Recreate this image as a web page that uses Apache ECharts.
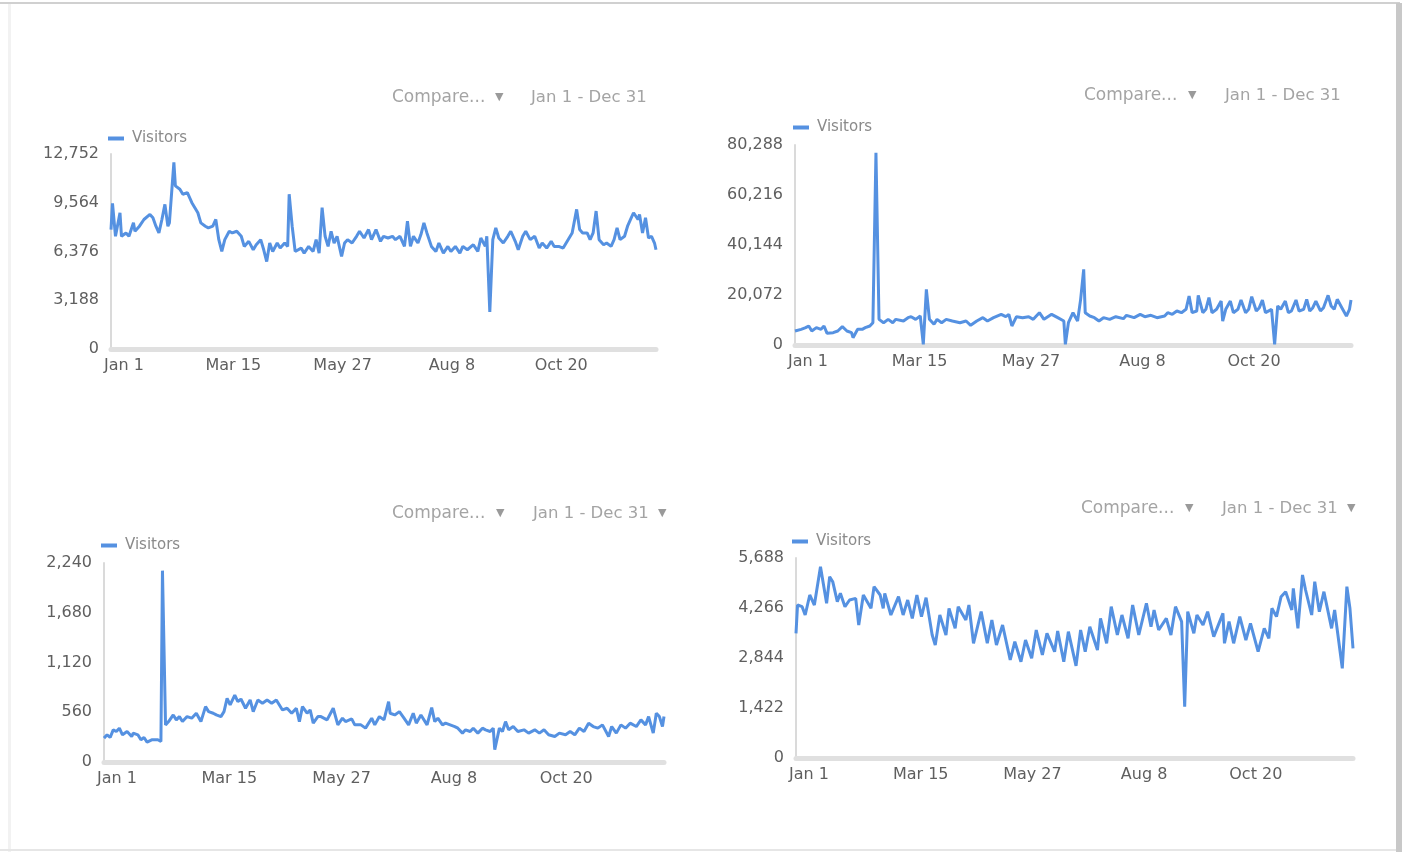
<!DOCTYPE html>
<html>
<head>
<meta charset="utf-8">
<script src="https://cdn.jsdelivr.net/npm/echarts@6/dist/echarts.min.js"></script>
<style>
html,body{margin:0;padding:0;background:#fff;}
#c{width:1405px;height:852px;}
</style>
</head>
<body>
<div id="c"></div>
<script>
// ---- data ----
var tickDays = [0, 73, 146, 219, 292];
var tickLabels = ['Jan 1', 'Mar 15', 'May 27', 'Aug 8', 'Oct 20'];
var yMax = [12752, 80288, 2240, 5688];
var seriesName = 'Visitors';
var compareText = 'Compare...';
var rangeText = 'Jan 1 - Dec 31';

var visitors1 = [[0,7810],[1,9530],[3,7370],[4,7480],[6,8910],[7,7370],[10,7590],[12,7370],[15,8250],[16,7700],[19,8030],[22,8470],[26,8800],[28,8580],[30,8030],[32,7590],[34,8470],[36,9460],[38,8030],[39,8250],[42,12210],[43,10670],[46,10450],[48,10120],[51,10230],[54,9570],[56,9240],[58,8910],[60,8250],[63,8030],[65,7920],[68,8030],[70,8470],[72,7150],[74,6380],[76,7150],[79,7700],[81,7590],[84,7700],[87,7370],[89,6710],[92,7040],[95,6490],[97,6820],[100,7150],[102,6490],[104,5720],[106,6930],[108,6380],[111,6930],[113,6600],[116,6930],[118,6710],[119,10120],[121,8030],[123,6380],[127,6600],[129,6270],[132,6710],[135,6380],[137,7150],[139,6270],[141,9240],[143,7370],[145,6710],[147,7700],[149,6930],[151,7370],[154,6050],[156,6930],[158,7150],[161,6930],[164,7370],[166,7700],[169,7260],[172,7810],[174,7150],[177,7810],[180,7040],[182,7370],[185,7260],[188,7370],[190,7150],[193,7370],[196,6710],[198,8360],[200,6710],[202,7370],[205,6930],[207,7480],[209,8250],[211,7590],[214,6710],[217,6380],[219,6930],[222,6270],[225,6710],[227,6380],[230,6710],[233,6270],[235,6710],[238,6490],[242,6820],[245,6380],[247,7260],[250,6710],[251,7370],[253,2420],[255,7150],[257,7920],[259,7260],[262,6930],[265,7370],[267,7700],[270,7040],[272,6490],[275,7370],[277,7700],[280,7150],[283,7370],[286,6600],[288,6930],[291,6600],[294,7040],[296,6710],[299,6710],[302,6600],[304,6930],[308,7590],[311,9130],[313,7810],[315,7590],[318,7590],[320,7150],[322,7590],[324,9020],[326,7150],[329,6820],[331,6930],[334,6710],[336,7150],[338,7920],[340,7150],[343,7370],[345,8030],[347,8470],[349,8910],[352,8470],[353,8800],[355,7590],[357,8580],[359,7260],[361,7370],[363,6930],[364,6490]];

var visitors2 = [[0,5620],[4,6290],[7,6960],[9,7630],[11,5620],[14,6960],[17,6290],[19,7630],[21,4680],[25,4950],[28,5620],[31,7360],[34,5620],[37,4950],[38,2940],[41,6290],[44,6290],[46,6960],[49,7630],[51,8960],[53,77200],[55,10300],[58,8960],[61,10300],[64,8960],[66,10300],[71,9630],[74,10970],[76,11370],[79,10300],[82,11640],[84,270],[86,22300],[88,10300],[91,8300],[93,10300],[96,8960],[99,10300],[103,9630],[108,8960],[112,9630],[115,7890],[119,9630],[123,10970],[126,9630],[130,10970],[135,12310],[138,11370],[140,12310],[142,7630],[145,11370],[149,10970],[153,11370],[156,10300],[160,12980],[163,10300],[168,12310],[172,10970],[176,9630],[177,270],[179,8960],[182,12980],[185,9630],[187,18330],[189,30370],[190,12980],[193,11640],[196,10970],[199,9630],[202,10970],[206,10300],[210,11370],[215,10570],[217,11910],[222,10970],[226,12310],[229,11370],[233,11910],[237,10970],[242,11640],[244,12980],[247,12310],[250,13650],[253,12980],[256,14320],[258,19670],[260,12980],[263,13650],[264,19940],[267,12980],[269,14320],[271,19000],[273,12980],[276,14320],[279,17660],[280,9630],[282,14320],[285,17660],[287,12980],[290,14320],[292,18060],[295,12980],[297,14320],[299,19400],[302,13650],[304,14990],[306,18060],[308,12980],[312,14320],[314,270],[316,15660],[318,14320],[321,17660],[323,12980],[325,13650],[328,18060],[330,13650],[333,14320],[335,18330],[337,13650],[339,14990],[341,17660],[344,13650],[346,14990],[349,19940],[351,15660],[353,14320],[355,18330],[358,14990],[361,11640],[363,14320],[364,18060]];

var visitors3 = [[0,269],[2,306],[4,276],[6,362],[8,343],[10,381],[12,306],[15,343],[18,287],[19,325],[22,306],[24,250],[26,276],[28,224],[31,250],[35,250],[37,231],[38,2154],[40,418],[42,455],[45,530],[47,474],[49,511],[51,455],[54,511],[57,493],[60,549],[63,455],[66,623],[68,567],[71,549],[73,530],[76,511],[78,567],[80,717],[82,642],[85,754],[87,679],[89,709],[92,605],[95,698],[97,567],[100,698],[103,661],[106,698],[109,661],[112,698],[114,642],[116,586],[119,605],[122,549],[125,605],[127,455],[129,623],[132,549],[134,586],[136,437],[139,511],[141,511],[145,474],[149,605],[152,418],[155,493],[157,455],[161,485],[163,418],[167,418],[170,381],[174,493],[176,418],[179,511],[182,474],[185,679],[186,549],[189,530],[192,567],[195,493],[198,418],[201,549],[203,437],[206,530],[210,418],[213,612],[215,455],[217,493],[220,418],[222,437],[225,418],[228,399],[230,381],[233,325],[235,362],[238,343],[240,381],[243,325],[246,381],[248,362],[251,343],[253,381],[254,138],[257,381],[259,343],[261,455],[263,362],[266,399],[269,343],[273,362],[276,325],[280,362],[283,325],[286,362],[289,306],[293,287],[296,325],[300,306],[303,343],[306,306],[309,381],[312,343],[315,437],[318,399],[321,381],[324,418],[328,287],[330,399],[333,325],[336,418],[339,381],[342,437],[346,399],[349,474],[352,418],[354,511],[357,325],[359,549],[361,511],[363,399],[364,511]];

var visitors4 = [[0,3546],[1,4351],[4,4304],[6,4067],[9,4636],[12,4351],[16,5441],[20,4399],[22,5157],[24,5015],[27,4446],[29,4683],[32,4304],[35,4493],[39,4541],[41,3783],[44,4636],[49,4257],[51,4873],[55,4636],[57,4257],[58,4683],[62,4067],[67,4588],[70,4067],[73,4493],[76,3972],[79,4636],[82,4020],[85,4560],[89,3498],[91,3214],[94,4067],[98,3498],[100,4257],[104,3688],[106,4304],[111,3925],[113,4351],[116,3262],[121,4162],[125,3262],[128,3925],[131,3214],[135,3783],[140,2787],[143,3308],[147,2739],[150,3356],[154,2835],[157,3640],[161,2929],[164,3546],[169,3024],[171,3612],[175,2739],[178,3593],[183,2620],[186,3640],[189,3024],[192,3735],[197,3072],[199,3972],[203,3262],[206,4304],[210,3498],[213,4067],[217,3404],[220,4351],[224,3498],[229,4399],[232,3735],[234,4209],[237,3640],[242,3972],[245,3498],[248,4304],[252,3877],[254,1460],[256,4162],[260,3546],[262,4067],[266,3783],[269,4162],[273,3451],[279,4114],[280,3262],[283,3877],[286,3262],[290,4020],[294,3356],[297,3830],[302,3024],[306,3688],[309,3404],[311,4257],[314,4020],[317,4588],[320,4730],[324,4209],[325,4826],[328,3688],[331,5205],[333,4778],[337,4067],[339,5015],[342,4162],[345,4730],[350,3688],[352,4209],[354,3546],[357,2551],[360,4873],[362,4257],[364,3120]];

// ---- layout ----
var FONT = 'DejaVu Sans';
var LINE = '#5591e1';
var panels = [
  {grid:{left:111, top:154, width:545, height:195}, legend:[108,138], compare:[392,97], tri1:500, range:[531,97], tri2:null, data:visitors1},
  {grid:{left:795, top:145, width:556, height:200}, legend:[793,127], compare:[1084,95], tri1:1193, range:[1225,95], tri2:null, data:visitors2},
  {grid:{left:104, top:563, width:560, height:199}, legend:[101,545], compare:[392,513], tri1:501, range:[533,513], tri2:663, data:visitors3},
  {grid:{left:796, top:558, width:557, height:200}, legend:[792,541], compare:[1081,508], tri1:1190, range:[1222,508], tri2:1352, data:visitors4}
];

var grids = [], xAxes = [], yAxes = [], series = [], legends = [], graphics = [];

graphics.push({type:'rect', shape:{x:0, y:2, width:1400, height:2}, style:{fill:'#d0d0d0'}, silent:true});
graphics.push({type:'rect', shape:{x:1396, y:3, width:6, height:849}, style:{fill:'#c8c8c8'}, silent:true});
graphics.push({type:'rect', shape:{x:8, y:4, width:3, height:848}, style:{fill:'#f2f2f2'}, silent:true});
graphics.push({type:'rect', shape:{x:0, y:849, width:1396, height:2}, style:{fill:'#e6e6e6'}, silent:true});

panels.forEach(function(p, i){
  grids.push(Object.assign({containLabel:false}, p.grid));
  xAxes.push({
    type:'value', gridIndex:i, min:0, max:364, interval:73,
    axisLine:{show:true, onZero:false, lineStyle:{color:'#e0e0e0', width:5}},
    axisTick:{show:false}, splitLine:{show:false},
    axisLabel:{
      color:'#5f5f5f', fontFamily:FONT, fontSize:16, margin:9,
      padding:[0,0,0,26], showMaxLabel:false,
      formatter:function(v){ var k = tickDays.indexOf(v); return k >= 0 ? tickLabels[k] : ''; }
    }
  });
  yAxes.push({
    type:'value', gridIndex:i, min:0, max:yMax[i], interval:yMax[i]/4,
    axisLine:{show:true, lineStyle:{color:'#dadada', width:2}},
    axisTick:{show:false}, splitLine:{show:false},
    axisLabel:{color:'#5f5f5f', fontFamily:FONT, fontSize:16, margin:12}
  });
  series.push({
    name:seriesName, type:'line', xAxisIndex:i, yAxisIndex:i,
    data:p.data, showSymbol:false, symbol:'none',
    lineStyle:{color:LINE, width:3}, itemStyle:{color:LINE}
  });
  legends.push({
    data:[seriesName], left:p.legend[0], top:p.legend[1]-7, padding:0,
    icon:'rect', itemWidth:16, itemHeight:4, itemGap:10,
    textStyle:{color:'#8a8a8a', fontFamily:FONT, fontSize:15, padding:[0,0,0,3]},
    selectedMode:false
  });
  graphics.push({type:'text', left:p.compare[0], top:p.compare[1]-8,
    style:{text:compareText, fill:'#a4a4a4', font:'17px "' + FONT + '"'}, silent:true});
  graphics.push({type:'text', left:p.tri1-5, top:p.compare[1]-5,
    style:{text:'\u25BC', fill:'#9a9a9a', font:'11px "' + FONT + '"'}, silent:true});
  graphics.push({type:'text', left:p.range[0], top:p.range[1]-8,
    style:{text:rangeText, fill:'#a4a4a4', font:'16.5px "' + FONT + '"'}, silent:true});
  if (p.tri2) {
    graphics.push({type:'text', left:p.tri2-5, top:p.range[1]-5,
      style:{text:'\u25BC', fill:'#9a9a9a', font:'11px "' + FONT + '"'}, silent:true});
  }
});

var chart = echarts.init(document.getElementById('c'), null, {renderer:'canvas'});
chart.setOption({
  animation:false,
  backgroundColor:'#ffffff',
  grid:grids, xAxis:xAxes, yAxis:yAxes, series:series, legend:legends,
  graphic:graphics
});
</script>
</body>
</html>
